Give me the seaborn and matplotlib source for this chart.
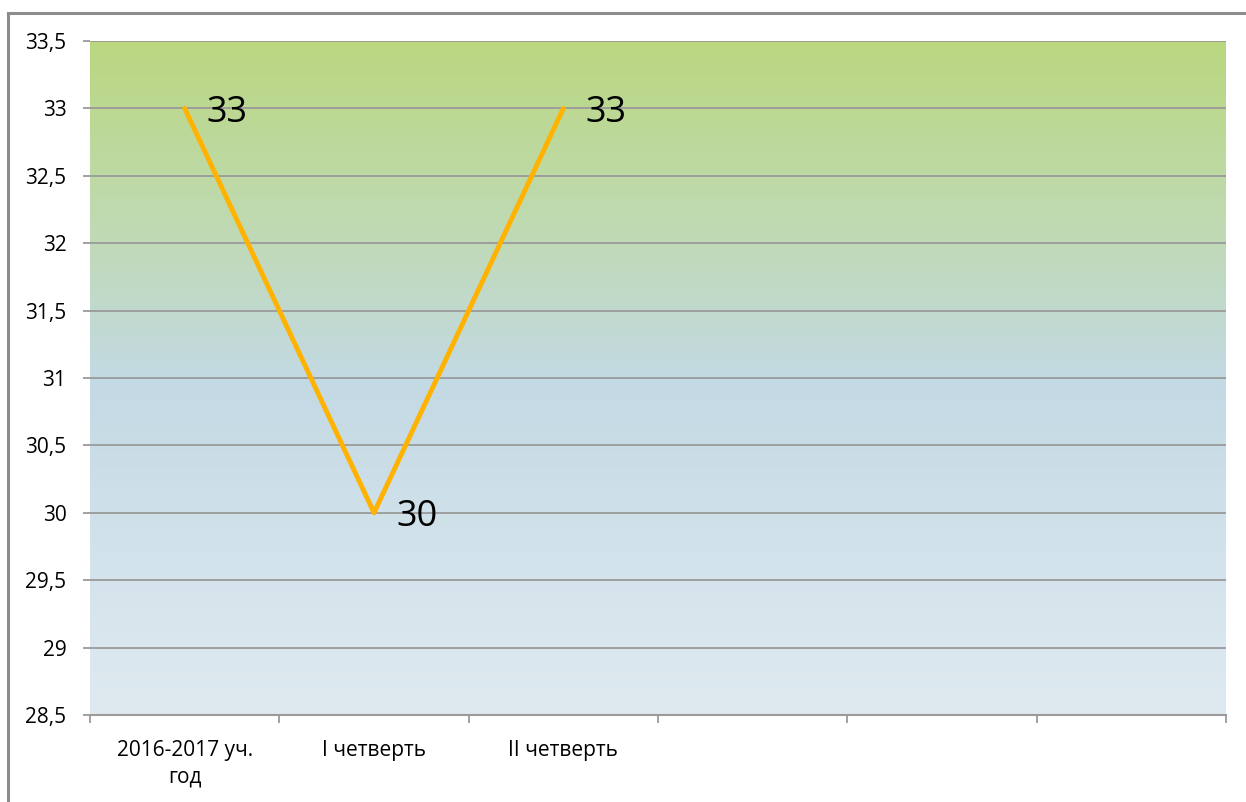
import numpy as np
import pandas as pd
import matplotlib
matplotlib.use("Agg")
import matplotlib.pyplot as plt
from matplotlib.patches import Rectangle
from matplotlib.colors import LinearSegmentedColormap
import seaborn as sns

categories = ["2016-2017 уч.\nгод", "I четверть", "II четверть"]
values = [33, 30, 33]
n_slots = 6
y_ticks = [28.5, 29, 29.5, 30, 30.5, 31, 31.5, 32, 32.5, 33, 33.5]
y_labels = ["28,5", "29", "29,5", "30", "30,5", "31", "31,5", "32", "32,5", "33", "33,5"]

df = pd.DataFrame({"cat": categories, "val": values})

sns.set_style("white")
plt.rcParams["font.family"] = ["Open Sans", "DejaVu Sans"]

fig = plt.figure(figsize=(12.46, 8.02), dpi=100)
ax = fig.add_axes([90 / 1246, 1 - 715 / 802, (1226 - 90) / 1246, (715 - 41) / 802])

# outer frame
fig.patches.append(Rectangle((8 / 1246, -0.1), 1.2, 1 - 13 / 802 + 0.1,
                             transform=fig.transFigure, fill=False,
                             edgecolor="#8c8c8c", linewidth=2.2))

# gradient background
grad = LinearSegmentedColormap.from_list(
    "bg", [(0.0, "#dfeaf0"), (0.25, "#d2e2eb"), (0.5, "#c3d9e3"),
           (0.75, "#bfdaae"), (1.0, "#bad780")])
g = np.linspace(0, 1, 256).reshape(-1, 1)
ax.imshow(g, cmap=grad, aspect="auto", origin="lower",
          extent=(-0.5, n_slots - 0.5, 28.5, 33.5), zorder=0)

for y in y_ticks:
    ax.axhline(y, color="#9a9a9a", linewidth=1.3, zorder=1)

sns.lineplot(data=df, x="cat", y="val", ax=ax, color="#ffb300",
             linewidth=3.5, zorder=3, sort=False)

for i, v in enumerate(values):
    ax.annotate(f"{v}", (i, v), xytext=(16, -3), textcoords="offset points",
                ha="left", va="center", fontsize=26, color="black", zorder=4)

ax.set_xlim(-0.5, n_slots - 0.5)
ax.set_ylim(28.5, 33.5)
ax.set_xticks(range(len(categories)))
ax.set_xticklabels(categories, fontsize=15, linespacing=1.35, color="black")
ax.set_xticks(np.arange(-0.5, n_slots, 1), minor=True)
ax.tick_params(axis="x", which="major", bottom=False, length=0, pad=18)
ax.tick_params(axis="x", which="minor", bottom=True, length=6, width=1.3,
               color="#9a9a9a")
ax.set_yticks(y_ticks)
ax.set_yticklabels(y_labels, fontsize=15, color="black")
ax.tick_params(axis="y", left=True, length=5, width=1.3, color="#9a9a9a", pad=12)
ax.set_xlabel("")
ax.set_ylabel("")

for s in ["top", "right", "left"]:
    ax.spines[s].set_visible(False)
ax.spines["bottom"].set_color("#9a9a9a")
ax.spines["bottom"].set_linewidth(1.5)

fig.savefig("out.png", dpi=100)
